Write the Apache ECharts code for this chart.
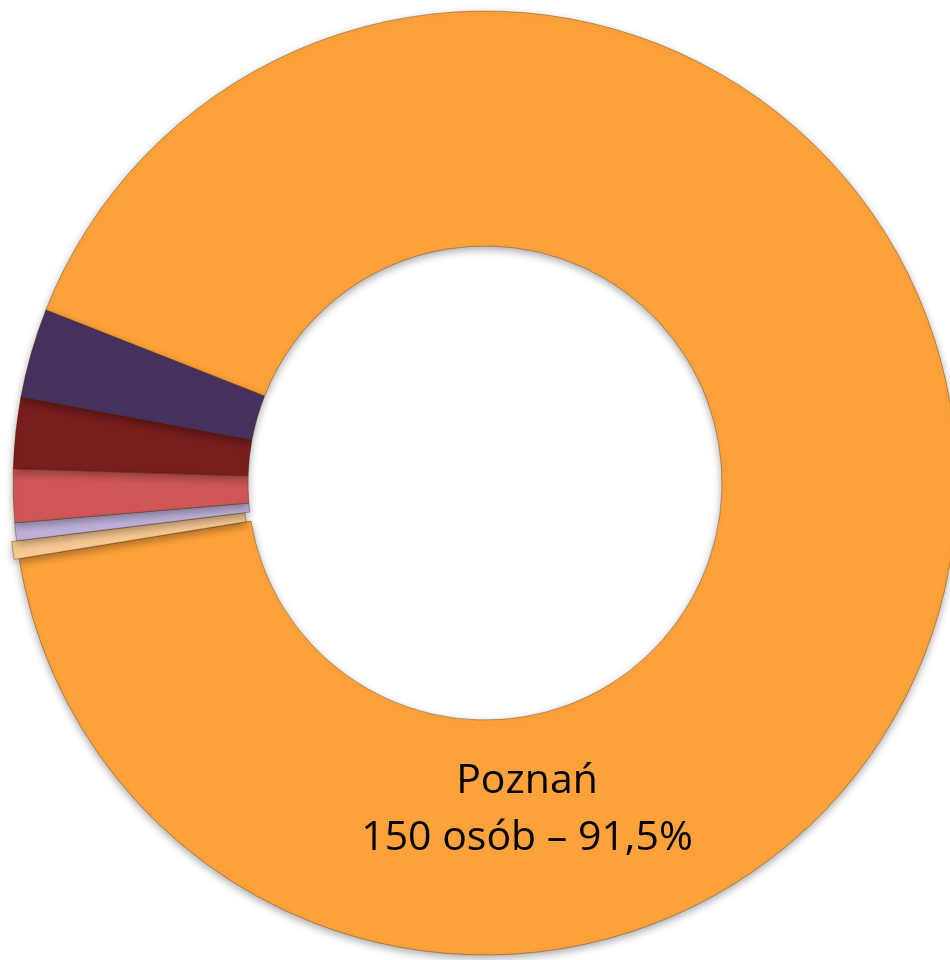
<!DOCTYPE html>
<html>
<head>
<meta charset="utf-8">
<script src="https://cdn.jsdelivr.net/npm/echarts@6/dist/echarts.min.js"></script>
<style>
html,body{margin:0;padding:0;background:#fff;}
#chart{width:950px;height:960px;}
</style>
</head>
<body>
<div id="chart"></div>
<script>
// dane
var names = ['Poznań', 'Inne 1', 'Inne 2', 'Inne 3', 'Inne 4', 'Inne 5'];
var values = [150, 1, 1, 3, 4, 5];
var colors = ['#FDA23A', '#F8C993', '#BEB0D8', '#CF5757', '#781E1E', '#47325F'];

var total = values.reduce(function(a, b){ return a + b; }, 0);
var pct = (values[0] / total * 100).toFixed(1).replace('.', ',');

var chart = echarts.init(document.getElementById('chart'));
var option = {
	animation: false,
	//podpis Poznania
	title: {
		text: names[0] + '\n' + values[0] + ' osób – ' + pct + '%',
		left: 522,
		top: 748,
		textAlign: 'center',
		textStyle: {
			fontFamily: 'Open Sans',
			fontSize: 41,
			fontWeight: 'normal',
			color: '#000',
			lineHeight: 57
		}
	},
	series: [{
		type: 'pie',
		radius: [237, 472],
		center: [485, 483],
		startAngle: 158.5,
		clockwise: true,
		selectedMode: 'single',
		selectedOffset: 5,
		label: { show: false },
		labelLine: { show: false },
		itemStyle: {
			borderColor: 'rgba(60,30,0,0.35)',
			borderWidth: 1,
			shadowColor: 'rgba(0,0,0,0.35)',
			shadowBlur: 8,
			shadowOffsetY: 3
		},
		emphasis: { disabled: true },
		data: names.map(function(n, i){
			return {
				name: n,
				value: values[i],
				selected: i === 1,
				itemStyle: { color: colors[i] }
			};
		})
	}]
};
chart.setOption(option);
</script>
</body>
</html>
